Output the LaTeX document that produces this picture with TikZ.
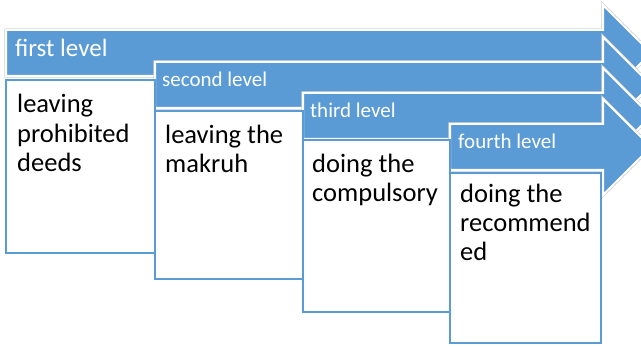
\documentclass[tikz,border=0pt]{standalone}
\usepackage{fontspec}
\setmainfont{Carlito}
\definecolor{lvlblue}{HTML}{5B9BD5}
\definecolor{rimgray}{HTML}{D0D0D0}
\tikzset{
  lvlarrow/.style={fill=lvlblue, draw=white, line width=2pt, line join=miter},
  lvlrim/.style={draw=rimgray, line width=3.4pt, line join=miter},
  lvlbox/.style={draw=lvlblue, fill=white, line width=2pt},
  lvllabel/.style={anchor=base west, inner sep=0pt, text=white},
  % multi-line texts are anchored at the baseline of their last line
  boxtext/.style={anchor=base west, inner sep=0pt, align=left, text=black,
    font=\fontsize{26.5}{29.5}\selectfont},
}
\begin{document}
\begin{tikzpicture}[x=1pt, y=-1pt]
\useasboundingbox (0,0) rectangle (641,347);
\clip (0,0) rectangle (641,347);

% level arrows: left end / body top / body bottom / head top / centre
\foreach \xa/\tp/\bt/\ht/\cy in {6/30/76/5/53, 155/62/108/37/85, 303/93/139/68/116, 450/124/170/99/147}{
  \pgfmathsetmacro{\hb}{2*\cy-\ht}
  \draw[lvlrim] (\xa,\tp) -- (603,\tp) -- (603,\ht) -- (651,\cy) -- (603,\hb) -- (603,\bt) -- (\xa,\bt) -- cycle;
  \path[lvlarrow] (\xa,\tp) -- (603,\tp) -- (603,\ht) -- (651,\cy) -- (603,\hb) -- (603,\bt) -- (\xa,\bt) -- cycle;
}

% content boxes
\draw[lvlbox] (6,80) rectangle (155,253);
\draw[lvlbox] (155,111) rectangle (303,279);
\draw[lvlbox] (303,140) rectangle (450,312);
\draw[lvlbox] (450,173) rectangle (601,343);

% arrow labels
\node[lvllabel, font=\fontsize{25}{28}\selectfont] (l1) at (15,57) {first level};
\node[lvllabel, font=\fontsize{21}{24}\selectfont] (l2) at (162,87) {second level};
\node[lvllabel, font=\fontsize{21}{24}\selectfont] (l3) at (310,118) {third level};
\node[lvllabel, font=\fontsize{21}{24}\selectfont] (l4) at (458,149) {fourth level};

% box texts
\node[boxtext] (t1) at (17,172) {leaving\\prohibited\\deeds};
\node[boxtext] (t2) at (165,173) {leaving the\\makruh};
\node[boxtext] (t3) at (312,202) {doing the\\compulsory};
\node[boxtext, font=\fontsize{26.5}{29}\selectfont] (t4) at (460,261) {doing the\\recommend\\ed};
\end{tikzpicture}
\end{document}
